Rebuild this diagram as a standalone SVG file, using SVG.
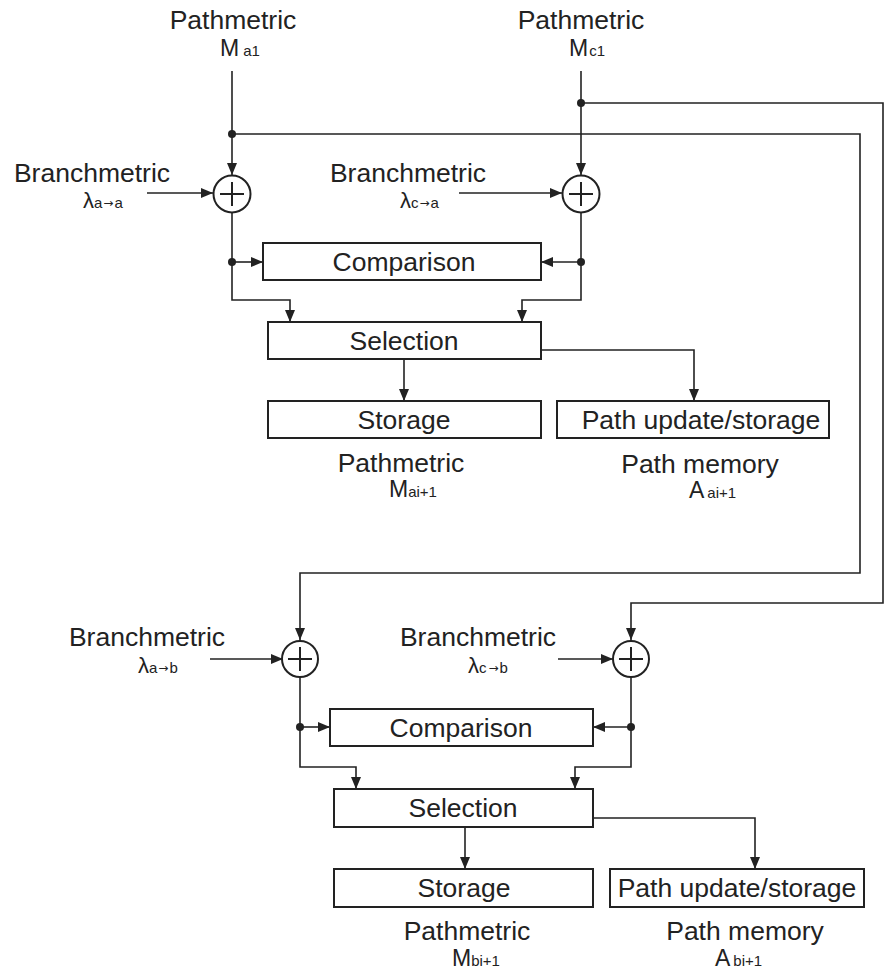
<svg xmlns="http://www.w3.org/2000/svg" width="885" height="970" viewBox="0 0 885 970">
  <style>
    .lbl { font-family: "Liberation Sans", Arial, sans-serif; font-size: 26.5px; fill: #222; }
    .big { font-family: "Liberation Sans", Arial, sans-serif; font-size: 23px; fill: #222; }
    .lam { font-family: "Liberation Sans", Arial, sans-serif; font-size: 22px; fill: #222; }
    .sub { font-family: "Liberation Sans", Arial, sans-serif; font-size: 15px; fill: #222; }
    .arr { font-family: "DejaVu Sans", sans-serif; font-size: 12px; fill: #222; }
    .box { fill: #fff; stroke: #222; stroke-width: 2; }
    .add { fill: #fff; stroke: #222; stroke-width: 2; }
    .wire { fill: none; stroke: #222; stroke-width: 1.6; }
    .arrow { fill: none; stroke: #222; stroke-width: 1.6; marker-end: url(#head); }
    .dot { fill: #222; }
  </style>
  <defs>
    <marker id="head" viewBox="0 0 12 10" refX="12" refY="5" markerWidth="12" markerHeight="10" markerUnits="userSpaceOnUse" orient="auto">
      <path d="M0,0 L12,5 L0,10 Z" fill="#222"/>
    </marker>
  </defs>
  <rect width="885" height="970" fill="#fff"/>

  <!-- connectors -->
  <g id="connectors">
    <!-- stage a: pathmetric inputs -->
    <path class="arrow" d="M232,71 V175"/>
    <path class="arrow" d="M581,71 V175"/>
    <!-- feed-forward of M_a1 and M_c1 to stage b -->
    <path class="arrow" d="M232,134 H860 V573 H300 V640"/>
    <path class="arrow" d="M581,103 H883 V603 H631 V640"/>
    <!-- branchmetric inputs stage a -->
    <path class="arrow" d="M147,193 H213"/>
    <path class="arrow" d="M459,193 H562"/>
    <!-- adders to comparison/selection stage a -->
    <path class="wire" d="M232,213 V262"/>
    <path class="arrow" d="M232,262 H263"/>
    <path class="arrow" d="M232,262 V300 H290 V322"/>
    <path class="wire" d="M581,213 V262"/>
    <path class="arrow" d="M581,262 H541"/>
    <path class="arrow" d="M581,262 V300 H522 V322"/>
    <path class="arrow" d="M404,359 V401"/>
    <path class="arrow" d="M541,350 H694 V401"/>
    <!-- branchmetric inputs stage b -->
    <path class="arrow" d="M210,659 H283"/>
    <path class="arrow" d="M558,659 H613"/>
    <!-- adders to comparison/selection stage b -->
    <path class="wire" d="M300,677 V727"/>
    <path class="arrow" d="M300,727 H330"/>
    <path class="arrow" d="M300,727 V767 H356 V789"/>
    <path class="wire" d="M631,677 V727"/>
    <path class="arrow" d="M631,727 H593"/>
    <path class="arrow" d="M631,727 V767 H575 V789"/>
    <path class="arrow" d="M465,827 V869"/>
    <path class="arrow" d="M593,818 H755 V869"/>
    <!-- junction dots -->
    <circle class="dot" cx="232" cy="134" r="4"/>
    <circle class="dot" cx="581" cy="103" r="4"/>
    <circle class="dot" cx="232" cy="262" r="4"/>
    <circle class="dot" cx="581" cy="262" r="4"/>
    <circle class="dot" cx="300" cy="727" r="4"/>
    <circle class="dot" cx="631" cy="727" r="4"/>
  </g>

  <!-- input labels -->
  <g id="in-ma1">
    <text class="lbl" x="233" y="29" text-anchor="middle">Pathmetric</text>
    <text x="220" y="56"><tspan class="big">M</tspan><tspan class="sub" dx="4">a1</tspan></text>
  </g>
  <g id="in-mc1">
    <text class="lbl" x="581" y="29" text-anchor="middle">Pathmetric</text>
    <text x="569" y="56"><tspan class="big">M</tspan><tspan class="sub" dx="1">c1</tspan></text>
  </g>
  <g id="bm-aa">
    <text class="lbl" x="92" y="182" text-anchor="middle">Branchmetric</text>
    <text x="83" y="208"><tspan class="lam">λ</tspan><tspan class="sub">a</tspan><tspan class="arr" dx="1" dy="-1">→</tspan><tspan class="sub" dx="1" dy="1">a</tspan></text>
  </g>
  <g id="bm-ca">
    <text class="lbl" x="408" y="182" text-anchor="middle">Branchmetric</text>
    <text x="400" y="208"><tspan class="lam">λ</tspan><tspan class="sub">c</tspan><tspan class="arr" dx="1" dy="-1">→</tspan><tspan class="sub" dx="1" dy="1">a</tspan></text>
  </g>

  <!-- stage a -->
  <g id="add-aa">
    <circle class="add" cx="232" cy="194" r="18.5"/>
    <path class="wire" d="M220,194 H244 M232,182 V206" style="stroke-width:2"/>
  </g>
  <g id="add-ca">
    <circle class="add" cx="581" cy="194" r="18.5"/>
    <path class="wire" d="M569,194 H593 M581,182 V206" style="stroke-width:2"/>
  </g>
  <g id="cmp-a">
    <rect class="box" x="263" y="243" width="278" height="37"/>
    <text class="lbl" x="404" y="271" text-anchor="middle">Comparison</text>
  </g>
  <g id="sel-a">
    <rect class="box" x="268" y="322" width="273" height="37"/>
    <text class="lbl" x="404" y="350" text-anchor="middle">Selection</text>
  </g>
  <g id="sto-a">
    <rect class="box" x="268" y="401" width="273" height="37"/>
    <text class="lbl" x="404" y="429" text-anchor="middle">Storage</text>
  </g>
  <g id="path-a">
    <rect class="box" x="557" y="401" width="272" height="37"/>
    <text class="lbl" x="701" y="429" text-anchor="middle">Path update/storage</text>
  </g>
  <g id="out-ma">
    <text class="lbl" x="401" y="472" text-anchor="middle">Pathmetric</text>
    <text x="389" y="497"><tspan class="big">M</tspan><tspan class="sub">ai+1</tspan></text>
  </g>
  <g id="out-aa">
    <text class="lbl" x="700" y="473" text-anchor="middle">Path memory</text>
    <text x="689" y="498"><tspan class="big">A</tspan><tspan class="sub" dx="3">ai+1</tspan></text>
  </g>

  <!-- stage b -->
  <g id="bm-ab">
    <text class="lbl" x="147" y="646" text-anchor="middle">Branchmetric</text>
    <text x="138" y="673"><tspan class="lam">λ</tspan><tspan class="sub">a</tspan><tspan class="arr" dx="1" dy="-1">→</tspan><tspan class="sub" dx="1" dy="1">b</tspan></text>
  </g>
  <g id="bm-cb">
    <text class="lbl" x="478" y="646" text-anchor="middle">Branchmetric</text>
    <text x="468" y="673"><tspan class="lam">λ</tspan><tspan class="sub">c</tspan><tspan class="arr" dx="2" dy="-1">→</tspan><tspan class="sub" dx="1" dy="1">b</tspan></text>
  </g>
  <g id="add-ab">
    <circle class="add" cx="300" cy="659" r="18"/>
    <path class="wire" d="M288,659 H312 M300,647 V671" style="stroke-width:2"/>
  </g>
  <g id="add-cb">
    <circle class="add" cx="631" cy="659" r="18"/>
    <path class="wire" d="M619,659 H643 M631,647 V671" style="stroke-width:2"/>
  </g>
  <g id="cmp-b">
    <rect class="box" x="330" y="709" width="263" height="37"/>
    <text class="lbl" x="461" y="737" text-anchor="middle">Comparison</text>
  </g>
  <g id="sel-b">
    <rect class="box" x="334" y="789" width="259" height="38"/>
    <text class="lbl" x="463" y="817" text-anchor="middle">Selection</text>
  </g>
  <g id="sto-b">
    <rect class="box" x="334" y="869" width="259" height="38"/>
    <text class="lbl" x="464" y="897" text-anchor="middle">Storage</text>
  </g>
  <g id="path-b">
    <rect class="box" x="610" y="869" width="254" height="38"/>
    <text class="lbl" x="737" y="897" text-anchor="middle">Path update/storage</text>
  </g>
  <g id="out-mb">
    <text class="lbl" x="467" y="940" text-anchor="middle">Pathmetric</text>
    <text x="452" y="966"><tspan class="big">M</tspan><tspan class="sub">bi+1</tspan></text>
  </g>
  <g id="out-ab">
    <text class="lbl" x="745" y="940" text-anchor="middle">Path memory</text>
    <text x="715" y="966"><tspan class="big">A</tspan><tspan class="sub" dx="3">bi+1</tspan></text>
  </g>
</svg>
